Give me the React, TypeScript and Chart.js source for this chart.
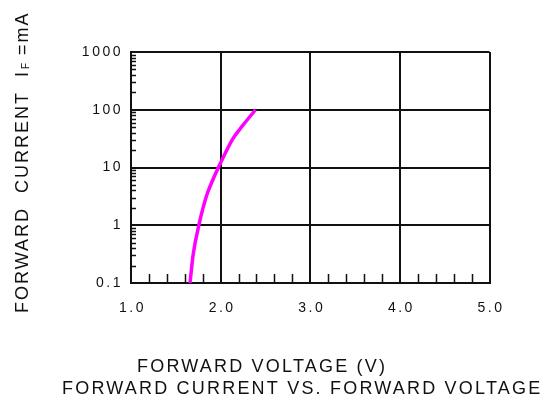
import React, { useEffect, useRef } from 'react';
import { Chart, registerables } from 'chart.js';

Chart.register(...registerables);

// Data
const voltage = [1.658, 1.695, 1.757, 1.842, 1.9, 1.975, 2.134, 2.245, 2.39];
const currentMA = [0.1, 0.32, 1, 3.2, 5.5, 10, 31, 53, 100];

const xTickValues = [1, 2, 3, 4, 5];
const xTickLabels = ['1.0', '2.0', '3.0', '4.0', '5.0'];
const yTickValues = [0.1, 1, 10, 100, 1000];
const yTickLabels = ['0.1', '1', '10', '100', '1000'];
const xMinorStep = 0.2;
const yMinorMultipliers = [2, 3, 4, 5, 6, 7, 8, 9];

const xTitle = 'FORWARD VOLTAGE (V)';
const chartCaption = 'FORWARD CURRENT VS. FORWARD VOLTAGE';
const yTitleMain = 'FORWARD  CURRENT  I';
const yTitleSub = 'F';
const yTitleTail = ' =mA';

const FONT = '"Liberation Sans", "DejaVu Sans", sans-serif';

const drawPlugin = {
  id: 'customText',
  afterDraw(chart: any) {
    const ctx = chart.ctx as CanvasRenderingContext2D;
    const xs = chart.scales.x;
    const ys = chart.scales.y;
    const area = chart.chartArea;
    ctx.save();
    // minor ticks
    ctx.strokeStyle = '#111';
    ctx.lineWidth = 1.5;
    ctx.beginPath();
    const nMinor = Math.round((xs.max - xs.min) / xMinorStep);
    for (let i = 1; i < nMinor; i++) {
      const v = xs.min + i * xMinorStep;
      if (Math.abs(v - Math.round(v)) < 1e-6) continue;
      const px = Math.round(xs.getPixelForValue(v)) + 0.5;
      ctx.moveTo(px, area.bottom);
      ctx.lineTo(px, area.bottom - 9);
    }
    for (let d = 0; d < yTickValues.length - 1; d++) {
      for (const m of yMinorMultipliers) {
        const v = yTickValues[d] * m;
        const py = Math.round(ys.getPixelForValue(v)) + 0.5;
        ctx.moveTo(area.left, py);
        ctx.lineTo(area.left + 5, py);
      }
    }
    ctx.stroke();

    ctx.fillStyle = '#111';
    // tick labels
    ctx.font = `14px ${FONT}`;
    (ctx as any).letterSpacing = '2.5px';
    ctx.textBaseline = 'middle';
    ctx.textAlign = 'center';
    xTickValues.forEach((v, i) => {
      const px = xs.getPixelForValue(v);
      ctx.fillText(xTickLabels[i], px + 1.5, area.bottom + 25);
    });
    ctx.textAlign = 'right';
    yTickValues.forEach((v, i) => {
      const py = ys.getPixelForValue(v);
      ctx.fillText(yTickLabels[i], area.left - 8, py);
    });

    // titles
    ctx.font = `18px ${FONT}`;
    (ctx as any).letterSpacing = '2.2px';
    ctx.textAlign = 'left';
    ctx.fillText(xTitle, 137, 367);
    ctx.fillText(chartCaption, 62, 389);

    // y title rotated
    ctx.save();
    ctx.translate(23, 313);
    ctx.rotate(-Math.PI / 2);
    ctx.textAlign = 'left';
    ctx.font = `18px ${FONT}`;
    (ctx as any).letterSpacing = '2px';
    let x = 0;
    ctx.fillText(yTitleMain, x, 0);
    x += ctx.measureText(yTitleMain).width + 1;
    ctx.font = `10px ${FONT}`;
    (ctx as any).letterSpacing = '1px';
    ctx.fillText(yTitleSub, x, 3);
    x += ctx.measureText(yTitleSub).width;
    ctx.font = `18px ${FONT}`;
    (ctx as any).letterSpacing = '2px';
    ctx.fillText(yTitleTail, x, 0);
    ctx.restore();

    ctx.restore();
  },
};

export default function App() {
  const ref = useRef<HTMLCanvasElement | null>(null);
  useEffect(() => {
    if (!ref.current) return;
    const chart = new Chart(ref.current, {
      type: 'scatter',
      data: {
        datasets: [
          {
            data: voltage.map((v, i) => ({ x: v, y: currentMA[i] })),
            showLine: true,
            borderColor: '#ff00ff',
            backgroundColor: '#ff00ff',
            borderWidth: 3.5,
            pointRadius: 0,
            cubicInterpolationMode: 'monotone',
          },
        ],
      },
      options: {
        animation: false,
        responsive: false,
        devicePixelRatio: 1,
        layout: { padding: { left: 131, right: 55.5, top: 52, bottom: 132 } },
        plugins: { legend: { display: false }, tooltip: { enabled: false }, title: { display: false } },
        scales: {
          x: {
            type: 'linear',
            min: 1,
            max: 5,
            afterBuildTicks: (s: any) => {
              s.ticks = xTickValues.map((v) => ({ value: v }));
            },
            afterFit: (s: any) => {
              s.height = 0;
            },
            ticks: { display: false },
            grid: { color: '#111', lineWidth: 2, drawTicks: false },
            border: { color: '#111', width: 2 },
          },
          y: {
            type: 'logarithmic',
            min: 0.1,
            max: 1000,
            afterBuildTicks: (s: any) => {
              s.ticks = yTickValues.map((v) => ({ value: v }));
            },
            afterFit: (s: any) => {
              s.width = 0;
            },
            ticks: { display: false },
            grid: { color: '#111', lineWidth: 2, drawTicks: false },
            border: { color: '#111', width: 2 },
          },
        },
      },
      plugins: [drawPlugin],
    });
    return () => chart.destroy();
  }, []);
  return (
    <div style={{ position: 'absolute', left: 0, top: 0, width: 545, height: 415, background: '#fff' }}>
      <canvas ref={ref} width={545} height={415} style={{ width: 545, height: 415 }} />
    </div>
  );
}
